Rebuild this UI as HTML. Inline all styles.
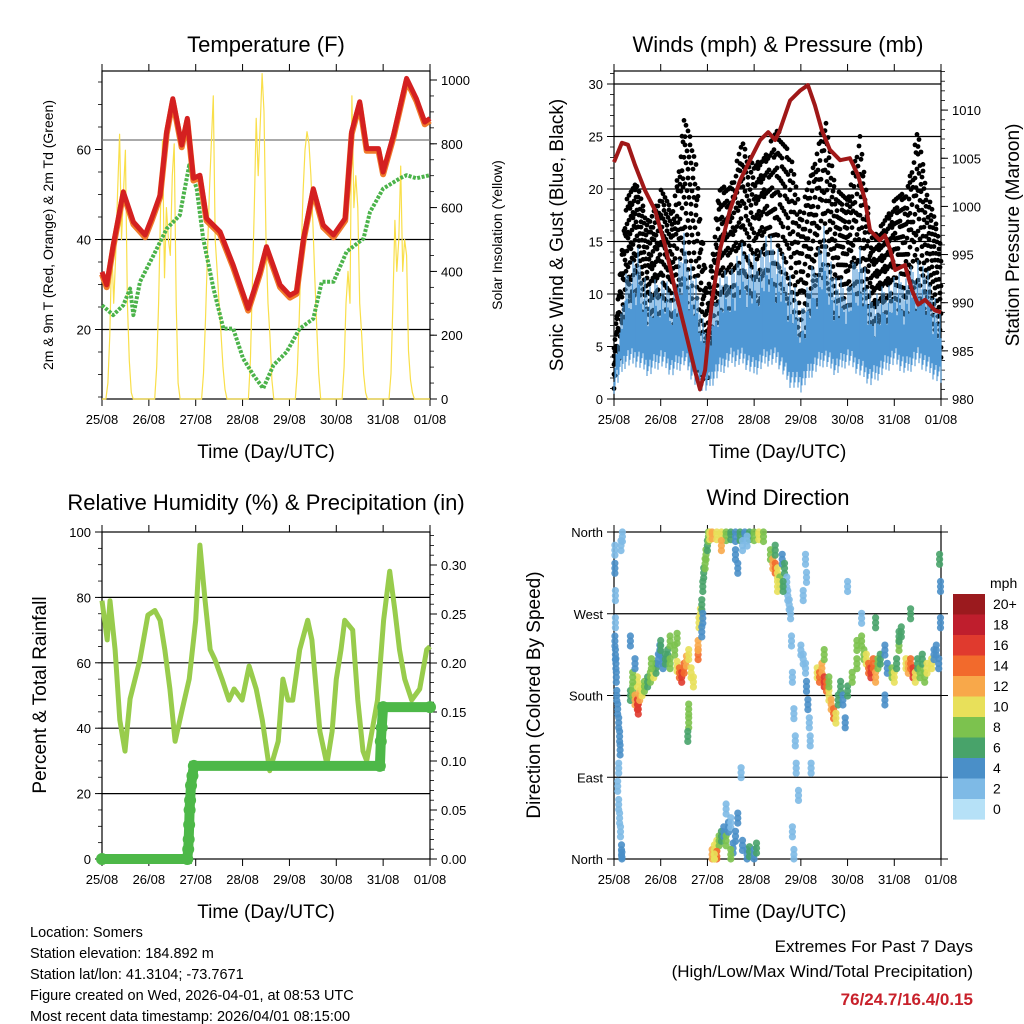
<!DOCTYPE html>
<html><head><meta charset="utf-8"><style>
html,body{margin:0;padding:0;background:#fff;}
svg{display:block;font-family:"Liberation Sans",sans-serif;}
</style></head><body>
<svg id="root" width="1024" height="1024" viewBox="0 0 1024 1024" xmlns="http://www.w3.org/2000/svg"></svg>
<script>
// ---------- DATA ----------
const dayLabels = ["25/08","26/08","27/08","28/08","29/08","30/08","31/08","01/08"];
const tempT = [0,0.10,0.24,0.455,0.67,0.92,1.06,1.24,1.38,1.51,1.70,1.82,1.95,2.09,2.23,2.52,2.80,3.12,3.37,3.51,3.80,4.01,4.15,4.30,4.51,4.72,4.94,5.19,5.33,5.50,5.65,5.90,6.00,6.22,6.50,6.71,6.89,7.0];
const tempV = [32.8,29.9,38.7,50.6,43.9,41,44.7,49.9,64,71.3,61,66.9,53.6,54.3,44.7,41.7,34.3,24.7,32.8,38.4,29.9,27.6,28.4,40.2,51.3,43.2,41,44.7,64,70.6,60.2,60.2,55,63.2,75.8,71.3,66.1,66.9];
const dewT = [0,0.24,0.455,0.60,0.67,0.81,1.10,1.38,1.66,1.86,2.02,2.16,2.38,2.59,2.80,3.01,3.23,3.44,3.66,3.94,4.22,4.51,4.69,4.94,5.22,5.58,5.72,6.00,6.36,6.50,6.71,7.0];
const dewV = [25.4,23.2,25.4,29.1,23.2,30.6,36.5,42.4,45.4,56.5,51.3,40.2,29.1,20.2,20.2,13.6,9.9,6.9,12.1,15,20.2,22.4,30.6,30.6,37.3,40.2,46.1,51.3,53.6,54.3,53.6,54.3];
const solarHourly = [
0,0,0,50,200,480,300,450,650,830,500,650,780,300,120,20,0,0,0,0,0,0,0,0,
0,0,0,0,100,300,600,810,380,600,500,450,700,800,300,50,0,0,0,0,0,0,0,0,
0,0,0,0,80,250,450,650,800,950,500,400,300,200,100,30,0,0,0,0,0,0,0,0,
0,0,0,0,120,350,600,880,700,850,1020,900,500,300,200,60,0,0,0,0,0,0,0,0,
0,0,0,0,80,250,450,650,780,838,800,700,550,380,220,80,0,0,0,0,0,0,0,0,
0,0,0,0,100,300,400,300,950,600,700,600,300,200,80,20,0,0,0,0,0,0,0,0,
0,0,0,0,80,300,560,400,500,730,400,500,450,150,60,20,0,0,0,0,0,0,0,0,0];
const windT = [0,0.25,0.5,0.75,1,1.25,1.5,1.75,2,2.25,2.5,2.75,3,3.25,3.5,3.75,4,4.25,4.5,4.75,5,5.25,5.5,5.75,6,6.25,6.5,6.75,7];
const gustHi = [5,19,21,17,20,18,27,24,10,20,21,25,22,24,26,25,18,22,28,20,19,26,16,17,19,20,26,19,15];
const gustLo = [1,6,9,6,7,6,8,3,1,5,7,7,6,8,7,4,1,6,8,6,7,6,4,6,7,6,8,6,3];
const windHi = [3,12,15,11,12,11,16,12,6,12,13,15,14,16,15,13,9,13,17,12,11,16,10,11,12,12,14,12,8];
const windLo = [0.5,3,3,2,3,2,3,1,0.5,2,3,3,2,3,3,1,0.5,2,3,2,3,2,1,2,3,2,3,2,1];
const presT = [0,0.17,0.30,0.45,0.66,0.88,1.09,1.31,1.52,1.73,1.84,1.95,2.10,2.27,2.48,2.70,2.91,3.13,3.30,3.45,3.55,3.77,3.98,4.15,4.30,4.45,4.62,4.84,5.05,5.22,5.37,5.48,5.69,5.80,5.91,6.02,6.23,6.38,6.51,6.66,6.87,7.0];
const presV = [1004.6,1006.6,1006.4,1004.3,1001.7,999.6,996,991.3,987.2,983,981,983,990.3,995.5,999.6,1002.7,1004.8,1006.9,1007.7,1006.9,1007.9,1011,1012,1012.6,1010.5,1007.9,1005.9,1004.8,1005,1003.3,1000.7,997.5,996.5,997,995.5,993.4,993.9,991.3,989.8,990.3,989.2,989];
const rhT = [0,0.11,0.17,0.28,0.38,0.49,0.6,0.81,0.98,1.13,1.24,1.34,1.45,1.56,1.71,1.86,2.0,2.09,2.2,2.31,2.41,2.56,2.71,2.82,2.99,3.14,3.29,3.42,3.58,3.76,3.86,3.97,4.07,4.22,4.39,4.48,4.65,4.8,4.91,5.0,5.1,5.18,5.35,5.46,5.57,5.65,5.88,6.01,6.14,6.25,6.35,6.46,6.61,6.78,6.93,7.0];
const rhV = [79,67,79,64,42.5,33,49,61,74.6,76,73,64,52,36,45.6,55,73,96,79,64,61,55,48.6,52,48.6,59,52,42.5,27,36,55,48.6,48.6,64,73,67,39,29,39,55,64,73,70,48.6,33,30,48.6,73,88,76,64,55,48.6,52,64,65];
const precipT = [0,1.82,1.84,1.85,1.86,1.87,1.88,1.9,1.93,1.96,5.93,5.95,5.97,6.0,7];
const precipV = [0,0,0.01,0.02,0.035,0.05,0.06,0.075,0.085,0.095,0.095,0.12,0.134,0.155,0.155];
const dirT = [0.02,0.02,0.03,0.03,0.02,0.03,0.04,0.05,0.06,0.08,0.1,0.12,0.13,0.1,0.08,0.1,0.12,0.14,0.16,0.17,0.18,0.15,
0.35,0.4,0.45,0.5,0.52,0.55,0.6,0.65,0.72,0.78,0.85,0.9,0.95,0.98,0.5,0.4,0.45,0.35,0.8,
1.05,1.1,1.15,1.2,1.3,1.35,1.4,1.45,1.5,1.55,1.6,1.65,1.7,1.6,1.6,1.58,1.8,1.8,1.82,1.85,1.2,1.0,1.35,
1.88,1.9,1.92,1.95,1.97,1.9,1.88,2.0,2.02,2.05,2.1,
2.2,2.3,2.4,2.5,2.6,2.7,2.8,2.9,3.0,3.1,3.2,2.3,2.6,2.65,2.75,2.85,3.35,3.4,3.45,3.5,3.55,3.5,3.45,3.6,3.65,3.7,3.72,3.75,3.62,
2.1,2.15,2.2,2.25,2.3,2.35,2.4,2.45,2.5,2.55,2.6,2.65,2.75,2.85,2.9,3.0,3.05,2.4,2.5,2.2,2.15,2.72,
3.78,3.8,3.82,3.85,3.88,3.9,3.95,3.82,3.85,4.1,4.12,4.05,
4.0,4.05,4.1,4.12,4.15,4.18,4.2,4.22,4.35,4.4,4.45,4.5,4.55,4.6,4.65,4.7,4.75,4.8,4.85,4.9,4.95,4.5,4.6,5.0,5.1,5.2,
5.2,5.3,5.35,5.4,5.45,5.5,5.55,5.6,5.65,5.7,5.8,5.85,5.95,6.0,6.05,6.1,6.15,6.25,6.3,6.35,6.4,6.45,6.5,6.55,6.6,6.65,6.7,6.8,6.85,6.9,6.95,6.99,6.97,6.99,5.6,6.35,6.1,5.8,5.3,5.0];
const dirDeg = [340,320,290,260,240,225,215,200,180,165,150,135,120,100,80,60,45,30,10,2,355,345,
180,185,175,170,165,180,185,190,195,200,205,210,220,230,195,200,215,240,215,
215,220,225,215,230,212,205,200,210,218,225,205,195,165,150,135,225,235,260,270,240,235,243,
280,300,315,325,335,265,250,345,355,357,358,
357,357,356,357,355,356,358,357,356,357,355,345,335,320,345,350,335,325,320,315,305,300,340,330,320,305,290,280,300,
5,10,15,20,25,30,20,35,40,12,25,45,15,5,8,5,12,55,5,3,0,95,
270,240,200,160,130,100,70,30,5,330,310,290,
230,220,210,190,170,150,130,100,205,200,210,195,190,180,170,160,155,175,190,175,150,225,195,185,200,215,
235,240,225,220,210,205,215,200,215,220,230,210,205,200,215,235,250,215,210,215,205,200,215,205,220,200,210,215,225,230,215,260,330,300,260,270,245,175,265,300];
const dirSpd = [2,4,1,2,4,4,4,4,4,4,4,4,4,1,1,1,1,1,3,4,2,1,
5,8,12,15,16,12,10,8,6,8,10,6,4,4,9,7,4,4,7,
4,6,5,7,8,10,13,15,14,11,9,9,10,7,8,6,14,12,10,9,8,5,8,
6,5,6,8,7,4,4,6,8,10,11,
9,10,8,6,4,5,4,6,8,10,8,12,4,4,1,1,7,12,13,10,8,10,6,4,5,2,2,2,6,
12,10,9,8,6,4,7,4,1,4,4,4,3,4,6,4,6,2,8,13,10,1,
2,1,1,1,1,1,1,1,1,1,1,1,
2,2,2,4,4,2,1,1,10,13,12,16,14,10,12,14,10,6,6,4,4,8,8,6,8,7,
8,7,8,10,14,16,13,11,8,6,4,4,7,10,6,7,6,9,12,13,15,10,6,8,6,7,9,10,4,4,4,3,6,4,6,6,6,4,2,1];
const speedBins = ["0","2","4","6","8","10","12","14","16","18","20+"];
const speedColors = ["#b6e1f7","#7ebae6","#4a8fc8","#48a36a","#7cc24e","#e8e05a","#f8a84a","#f26a2c","#e03a2e","#bf1e2d","#9b1a1e"];

// ---------- HELPERS ----------
const NS = "http://www.w3.org/2000/svg";
const root = document.getElementById("root");
function mk(tag, attrs, parent){
  const e = document.createElementNS(NS, tag);
  for (const k in attrs) e.setAttribute(k, attrs[k]);
  (parent || root).appendChild(e);
  return e;
}
function txt(s, x, y, size, anchor, parent, extra){
  const a = {x:x, y:y, "font-size":size, "text-anchor":anchor||"middle", fill:"#000"};
  if (extra) for (const k in extra) a[k] = extra[k];
  const e = mk("text", a, parent);
  e.textContent = s;
  return e;
}
const P1 = {x0:102,x1:430,y0:71,y1:399};
const P2 = {x0:614,x1:941,y0:71,y1:399};
const P3 = {x0:102,x1:430,y0:532,y1:859};
const P4 = {x0:614,x1:941,y0:532,y1:859};
function xT(t,P){ return P.x0 + t/7*(P.x1-P.x0); }
const yTemp = v => 329.5 - (v-20)*4.5;
const ySolar = v => 399 - v*0.319;
const yWind = v => 399 - v*10.5;
const yPres = p => 399 - (p-980)*9.63;
const yRH = v => 859 - v*3.27;
const yPrec = v => 859 - v*980;
const yDir = d => 859 - d/360*327;
function pathFrom(ts, vs, P, yf){
  let d = "";
  for (let i=0;i<ts.length;i++) d += (i?"L":"M") + xT(ts[i],P).toFixed(1) + "," + yf(vs[i]).toFixed(1);
  return d;
}
function frame(P, name){
  const g = mk("g", {});
  
  
  const r = mk("rect", {x:P.x0,y:P.y0,width:P.x1-P.x0,height:P.y1-P.y0,fill:"none",stroke:"#000","stroke-width":1.2}, g);
  
  
  for (let i=0;i<dayLabels.length;i++){
    const x = xT(i,P);
    mk("line",{x1:x,x2:x,y1:P.y1,y2:P.y1+7,stroke:"#000","stroke-width":1},g);
    mk("line",{x1:x,x2:x,y1:P.y0,y2:P.y0-7,stroke:"#000","stroke-width":1},g);
    const t = txt(dayLabels[i], x, P.y1+25, 13, "middle", g);
    
    
  }
  const xt = txt("Time (Day/UTC)", (P.x0+P.x1)/2, P.y1+59, 19, "middle", g);
  
  
  return g;
}
function hgrid(P, y, color, g){
  const l = mk("line",{x1:P.x0,x2:P.x1,y1:y,y2:y,stroke:color,"stroke-width":1.2},g);
  
  
}
function yTicks(P, side, vals, yf, labels, minorVals, g){
  const x = side==="L"?P.x0:P.x1, dir = side==="L"?-1:1;
  minorVals.forEach(v=>{ const y=yf(v); mk("line",{x1:x,x2:x+dir*4,y1:y,y2:y,stroke:"#000","stroke-width":0.8},g); });
  vals.forEach((v,i)=>{
    const y=yf(v);
    mk("line",{x1:x,x2:x+dir*7,y1:y,y2:y,stroke:"#000","stroke-width":1},g);
    const t = txt(labels[i], x+dir*11, y+5, 13, side==="L"?"end":"start", g);
    
    
  });
}
function rotTitle(s, x, y, size, name, g){
  const t = txt(s, x, y, size, "middle", g, {transform:"rotate(-90 "+x+" "+y+")"});
  
  
}
function title(s, x, y, name){
  const t = txt(s, x, y, 22, "middle");
  
  
}
function range(a,b,s){ const r=[]; for(let v=a; v<=b+1e-9; v+=s) r.push(+v.toFixed(4)); return r; }

// ---------- PANEL 1: TEMPERATURE ----------
title("Temperature (F)", 266, 52, "temperature-title");
const g1 = frame(P1, "temperature-panel");
hgrid(P1, yTemp(20), "#000", g1);
hgrid(P1, yTemp(40), "#000", g1);
hgrid(P1, ySolar(812), "#777", g1);
yTicks(P1,"L",[20,40,60],yTemp,["20","40","60"],range(5,75,5),g1);
yTicks(P1,"R",[0,200,400,600,800,1000],ySolar,["0","200","400","600","800","1000"],range(0,1000,50),g1);
rotTitle("2m & 9m T (Red, Orange) & 2m Td (Green)", 53, 235, 14, "left-axis-title", g1);
rotTitle("Solar Insolation (Yellow)", 502, 235, 14, "right-axis-title", g1);
{
  const solT = solarHourly.map((v,i)=>i/24);
  const s = mk("path",{d:pathFrom(solT,solarHourly,P1,ySolar),fill:"none",stroke:"#f9df4a","stroke-width":1.2,"stroke-linejoin":"round"},g1);
  
  
  const d = mk("path",{d:pathFrom(dewT,dewV,P1,yTemp),fill:"none",stroke:"#4bb34a","stroke-width":4,"stroke-dasharray":"3 1.5","stroke-linejoin":"round"},g1);
  
  
  const o = mk("path",{d:pathFrom(tempT,tempV.map(v=>v-0.5),P1,yTemp),fill:"none",stroke:"#f07a2a","stroke-width":6,"stroke-linejoin":"round"},g1);
  
  
  const r = mk("path",{d:pathFrom(tempT,tempV,P1,yTemp),fill:"none",stroke:"#d42020","stroke-width":5,"stroke-linejoin":"round"},g1);
  
  
}

// ---------- PANEL 2: WINDS ----------
title("Winds (mph) & Pressure (mb)", 778, 52, "winds-title");
const g2 = frame(P2, "winds-panel");
[5,10,15,20,25,30].forEach(v=>hgrid(P2, yWind(v), "#000", g2));
yTicks(P2,"L",[0,5,10,15,20,25,30],yWind,["0","5","10","15","20","25","30"],range(0,31,1),g2);
yTicks(P2,"R",[980,985,990,995,1000,1005,1010],yPres,["980","985","990","995","1000","1005","1010"],range(980,1014,1),g2);
rotTitle("Sonic Wind & Gust (Blue, Black)", 563, 235, 19, "left-axis-title", g2);
rotTitle("Station Pressure (Maroon)", 1019, 235, 19, "right-axis-title", g2);
{
  const gg = mk("g",{fill:"#000"},g2);
  
  
  const gb = mk("g",{stroke:"#4e97d4","stroke-width":1.1},g2);
  
  
  const W = P2.x1-P2.x0;
  for (let px=0; px<=W; px+=1){
    const t = px/W*7;
    let i = Math.min(Math.floor(t/0.25), windT.length-2);
    const f = (t-windT[i])/(windT[i+1]-windT[i]);
    const gh = gustHi[i]+(gustHi[i+1]-gustHi[i])*f, gl = gustLo[i]+(gustLo[i+1]-gustLo[i])*f;
    const wh = windHi[i]+(windHi[i+1]-windHi[i])*f, wl = windLo[i]+(windLo[i+1]-windLo[i])*f;
    const x = P2.x0+px;
    for (let k=0;k<5;k++){
      const fr = ((px*0.618+k*0.237)%1);
      const v = gl + (gh-gl)*Math.pow(fr,0.75);
      mk("circle",{cx:x,cy:yWind(v).toFixed(1),r:2.4},gg);
    }
    const spike = ((px*0.414)%1)*0.55+0.45;
    const lo = wl + ((px*0.273)%1)*2;
    mk("line",{x1:x,x2:x,y1:yWind(lo).toFixed(1),y2:yWind(lo+(wh-lo)*spike).toFixed(1)},gb);
  }
  const p = mk("path",{d:pathFrom(presT,presV,P2,yPres),fill:"none",stroke:"#a01818","stroke-width":4,"stroke-linejoin":"round"},g2);
  
  
}

// ---------- PANEL 3: RH & PRECIP ----------
title("Relative Humidity (%) & Precipitation (in)", 266, 510, "humidity-title");
const g3 = frame(P3, "humidity-panel");
[20,40,60,80].forEach(v=>hgrid(P3, yRH(v), "#000", g3));
yTicks(P3,"L",[0,20,40,60,80,100],yRH,["0","20","40","60","80","100"],range(0,100,5),g3);
yTicks(P3,"R",[0,0.05,0.1,0.15,0.2,0.25,0.3],yPrec,["0.00","0.05","0.10","0.15","0.20","0.25","0.30"],range(0,0.33,0.01),g3);
rotTitle("Percent & Total Rainfall", 46, 695, 19, "left-axis-title", g3);
{
  const r = mk("path",{d:pathFrom(rhT,rhV,P3,yRH),fill:"none",stroke:"#98cc4c","stroke-width":5,"stroke-linejoin":"round"},g3);
  
  
  const p = mk("path",{d:pathFrom(precipT,precipV,P3,yPrec),fill:"none",stroke:"#4db848","stroke-width":10},g3);
  
  
  for (let i=0;i<precipT.length;i++){
    const c = mk("circle",{cx:xT(precipT[i],P3),cy:yPrec(precipV[i]),r:6,fill:"#4db848"},g3);
    
    
  }
}

// ---------- PANEL 4: WIND DIRECTION ----------
title("Wind Direction", 778, 505, "wind-direction-title");
const g4 = frame(P4, "wind-direction-panel");
[90,180,270].forEach(v=>hgrid(P4, yDir(v), "#000", g4));
yTicks(P4,"L",[0,90,180,270,360],yDir,["North","East","South","West","North"],[],g4);
yTicks(P4,"R",[0,90,180,270,360],yDir,["","","","",""],[],g4);
rotTitle("Direction (Colored By Speed)", 540, 695, 19, "left-axis-title", g4);
{
  const gd = mk("g",{},g4);
  
  
  for (let i=0;i<dirT.length;i++){
    const bin = Math.min(10, Math.max(0, Math.round(dirSpd[i]/2)));
    const x = xT(dirT[i],P4), y = yDir(dirDeg[i]);
    [-5,0,5].forEach(dy=>{
      const c = mk("circle",{cx:x.toFixed(1),cy:Math.min(P4.y1,Math.max(P4.y0,y+dy)).toFixed(1),r:3.6,fill:speedColors[bin],"fill-opacity":0.9},gd);
      
      
    });
  }
  const cb = mk("g",{});
  
  
  const mt = txt("mph", 990, 588, 14, "start", cb);
  
  
  for (let i=0;i<speedBins.length;i++){
    const k = speedBins.length-1-i;
    const y = 594 + i*20.5;
    const r = mk("rect",{x:953,y:y,width:32,height:20.6,fill:speedColors[k]},cb);
    
    
    const t = txt(speedBins[k], 993, y+15, 14, "start", cb);
    
    
  }
}

// ---------- FOOTER ----------
{
  const info = ["Location: Somers","Station elevation: 184.892 m","Station lat/lon: 41.3104; -73.7671","Figure created on Wed, 2026-04-01, at 08:53 UTC","Most recent data timestamp: 2026/04/01 08:15:00"];
  info.forEach((s,i)=>{
    const t = txt(s, 30, 937+i*21, 14.5, "start");
    
    
  });
  const a = txt("Extremes For Past 7 Days", 973, 952, 17, "end");
  
  
  const b = txt("(High/Low/Max Wind/Total Precipitation)", 973, 977, 17, "end");
  
  
  const c = txt("76/24.7/16.4/0.15", 973, 1005, 17, "end", null, {fill:"#c8202a","font-weight":"bold"});
  
  
}
</script>
</body></html>
